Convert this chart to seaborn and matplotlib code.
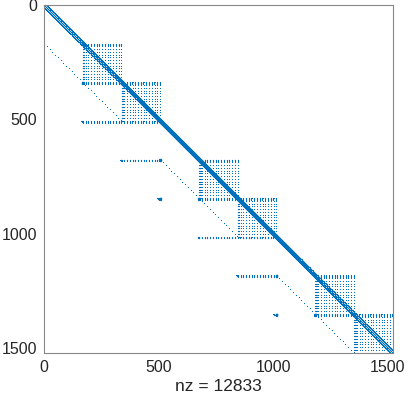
import numpy as np
import pandas as pd
import seaborn as sns
import matplotlib
matplotlib.use('Agg')
import matplotlib.pyplot as plt

sns.set_style('white')
plt.rcParams['font.family'] = ['Liberation Sans', 'DejaVu Sans']

# sparsity structure
n = 1521
block = 169
group_starts = [0, 507, 1014]
band_offsets = [-10, -9, 0, 9, 10]
grid_step = 12
dash_len = 8
square = 9
nz_label = 'nz = 12833'
tick_values = [0, 500, 1000, 1500]

rows, cols = [], []

def add(r, c):
    rows.append(r)
    cols.append(c)

# main diagonal band
for off in band_offsets:
    for i in range(n):
        j = i + off
        if 0 <= j < n:
            add(i, j)

def dense_square(r, c):
    for dr in range(square):
        for dc in range(square):
            add(r - 2 + dr, c - square // 2 + dc)

def dotted_box(b0):
    for r in range(b0, b0 + block, grid_step):
        for c in range(b0, b0 + block, grid_step):
            add(r, c)
    # left column drawn as short horizontal dashes
    for r in range(b0, b0 + block, grid_step):
        for d in range(dash_len):
            add(r, b0 + d)

def bar(r, c0, c1, tick=False):
    # row of short vertical dashes at grid columns
    for c in range(c0, c1, grid_step):
        for d in range(dash_len):
            add(r + d, c)
    if tick:
        for k in range(6):
            add(r + k, c0 - 6 + k)
            add(r + k, c0 - 5 + k)

for g, s in enumerate(group_starts):
    dotted_box(s + block)
    dotted_box(s + 2 * block)
    bar(s + block, s + block, s + 2 * block)
    bar(s + 2 * block, s + block, s + 3 * block)
    dense_square(s + block, s + block)
    dense_square(s + 2 * block, s + block)
    dense_square(s + 2 * block, s + 2 * block)
    # sparse sub-diagonal
    for k in range(0, 2 * block, grid_step):
        add(s + block + k, s + k)
    if g > 0:
        bar(s, s - 2 * block, s, tick=True)
        bar(s + block, s - block, s, tick=True)
        dense_square(s, s)
        dense_square(s + block, s)
        dense_square(s + 2 * block, s)
        for k in range(6):
            add(s + 2 * block + k, s - 14 + k)
            add(s + 2 * block + k, s - 13 + k)

spy = pd.DataFrame({'row': rows, 'col': cols}).drop_duplicates()
spy = spy[(spy.row >= 0) & (spy.col >= 0) & (spy.row < n) & (spy.col < n)]

fig = plt.figure(figsize=(4.07, 3.97), dpi=100)
ax = fig.add_axes([44 / 407, 1 - 353 / 397, 349 / 407, 348 / 397])
sns.scatterplot(data=spy, x='col', y='row', marker='s', s=0.55, color='#0072BD',
                linewidth=0, ax=ax, legend=False)
for coll in ax.collections:
    coll.set_snap(False)

ax.set_xlim(0, n + 1)
ax.set_ylim(n + 1, 0)
ax.set_xticks(tick_values)
ax.set_yticks(tick_values)
ax.tick_params(direction='in', length=3, width=0.6, color='#888888',
               labelsize=11.5, labelcolor='#262626', pad=5)
for sp in ax.spines.values():
    sp.set_color('#888888')
    sp.set_linewidth(0.8)
ax.set_xlabel(nz_label, fontsize=12.5, color='#262626', labelpad=3)
ax.set_ylabel('')

fig.savefig('out.png', dpi=100)
